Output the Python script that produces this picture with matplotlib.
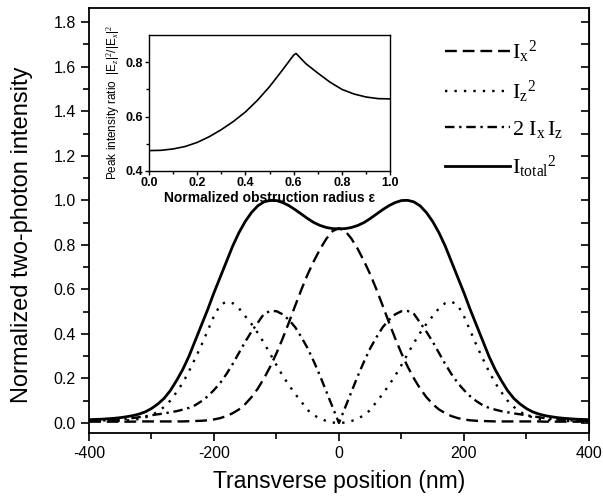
import numpy as np
import matplotlib
matplotlib.use('Agg')
import matplotlib.pyplot as plt

plt.rcParams['font.family'] = ['Liberation Sans', 'DejaVu Sans']
plt.rcParams['mathtext.fontset'] = 'custom'
plt.rcParams['mathtext.rm'] = 'Liberation Serif'
plt.rcParams['mathtext.it'] = 'Liberation Serif:italic'
plt.rcParams['axes.unicode_minus'] = False

# half profiles, x >= 0 (curves are symmetric about 0)
pos_half = [0, 10, 20, 30, 40, 50, 60, 70, 80, 90, 100, 110, 120, 130, 140, 150, 160, 170, 180, 190,
            200, 210, 220, 230, 240, 250, 260, 270, 280, 290, 300, 310, 320, 330, 340, 350, 360, 370, 380, 390, 400]
ix2_half = [0.875, 0.862, 0.828, 0.782, 0.728, 0.668, 0.600, 0.527, 0.452, 0.380, 0.313, 0.253, 0.200, 0.154,
            0.116, 0.085, 0.061, 0.044, 0.031, 0.022, 0.016, 0.012, 0.010, 0.009, 0.008, 0.007, 0.007, 0.007,
            0.007, 0.007, 0.007, 0.007, 0.007, 0.006, 0.006, 0.006, 0.006, 0.006, 0.006, 0.006, 0.006]
iz2_half = [0.0, 0.002, 0.009, 0.019, 0.035, 0.058, 0.095, 0.130, 0.170, 0.212, 0.260, 0.310, 0.360, 0.405,
            0.445, 0.480, 0.515, 0.538, 0.545, 0.530, 0.480, 0.415, 0.350, 0.290, 0.232, 0.180, 0.138, 0.100,
            0.072, 0.050, 0.035, 0.025, 0.018, 0.014, 0.012, 0.010, 0.009, 0.009, 0.008, 0.008, 0.008]
ixz_half = [0.0, 0.070, 0.140, 0.210, 0.275, 0.335, 0.385, 0.430, 0.463, 0.488, 0.502, 0.503, 0.490, 0.450,
            0.410, 0.365, 0.315, 0.265, 0.220, 0.180, 0.148, 0.120, 0.098, 0.080, 0.068, 0.060, 0.053, 0.048,
            0.043, 0.039, 0.035, 0.030, 0.026, 0.022, 0.019, 0.016, 0.014, 0.012, 0.011, 0.010, 0.010]
tot_half = [0.872, 0.873, 0.878, 0.887, 0.900, 0.918, 0.938, 0.958, 0.976, 0.990, 0.999, 1.000, 0.993, 0.975,
            0.945, 0.905, 0.855, 0.795, 0.725, 0.655, 0.585, 0.510, 0.440, 0.370, 0.300, 0.240, 0.190, 0.145,
            0.110, 0.085, 0.065, 0.050, 0.040, 0.033, 0.028, 0.024, 0.021, 0.019, 0.017, 0.016, 0.015]

# inset: peak intensity ratio vs obstruction radius
eps = [0.0, 0.05, 0.1, 0.15, 0.2, 0.25, 0.3, 0.35, 0.4, 0.45, 0.5, 0.55, 0.6, 0.61, 0.65, 0.7, 0.75, 0.8,
       0.85, 0.9, 0.95, 1.0]
ratio = [0.475, 0.476, 0.481, 0.490, 0.505, 0.526, 0.552, 0.582, 0.617, 0.660, 0.710, 0.767, 0.826, 0.832,
         0.795, 0.760, 0.727, 0.700, 0.683, 0.672, 0.666, 0.665]

def mirror(h, neg=False):
    h = np.array(h, dtype=float)
    left = -h[::-1] if neg else h[::-1]
    return np.concatenate([left, h[1:]])

x = mirror(pos_half, neg=True)
ix2 = mirror(ix2_half)
iz2 = mirror(iz2_half)
ixz = mirror(ixz_half)
tot = mirror(tot_half)

fig = plt.figure(figsize=(6.03, 5.01), dpi=100)
ax = fig.add_axes([0.1476, 0.1357, 0.829, 0.848])

ax.plot(x, ix2, color='black', lw=1.7, ls=(0, (5, 2.5)), label=r'${\mathrm{I_x}}^{\mathrm{2}}$')
ax.plot(x, iz2, color='black', lw=1.7, ls=(0, (1, 3)), label=r'${\mathrm{I_z}}^{\mathrm{2}}$')
ax.plot(x, ixz, color='black', lw=1.7, ls=(0, (4, 2, 1, 2)), label=r'$\mathrm{2\ I_x\,I_z}$')
ax.plot(x, tot, color='black', lw=2.0, ls='-', label=r'${\mathrm{I_{total}}}^{\mathrm{2}}$')

ax.set_xlim(-400, 400)
ax.set_ylim(-0.045, 1.863)
ax.set_xticks([-400, -200, 0, 200, 400])
ax.set_xticks([-300, -100, 100, 300], minor=True)
yt = np.arange(0, 1.81, 0.2)
ytm = np.arange(0.1, 1.81, 0.2)
ax.set_yticks(yt)
ax.set_yticks(ytm, minor=True)
ax.yaxis.set_major_formatter(matplotlib.ticker.FormatStrFormatter('%.1f'))
ax.tick_params(which='both', direction='out', labelsize=11.5, width=1.2)
ax.tick_params(which='major', length=6)
ax.tick_params(which='minor', length=4)
for s in ax.spines.values():
    s.set_linewidth(1.3)
ax.set_xlabel('Transverse position (nm)', fontsize=16.5, labelpad=6)
ax.set_ylabel('Normalized two-photon intensity', fontsize=17)
ax.yaxis.set_label_coords(-0.112, 0.466)

# inward ticks on the right spine
sec = ax.secondary_yaxis('right')
sec.set_yticks(yt)
sec.set_yticks(ytm, minor=True)
sec.tick_params(which='both', direction='in', labelright=False, width=1.2, length=6)

leg = ax.legend(loc='upper left', bbox_to_anchor=(0.712, 0.927), frameon=False, fontsize=16,
                handlelength=2.95, handletextpad=0.05, labelspacing=0.62, borderaxespad=0, borderpad=0)

# inset
ins = fig.add_axes([0.247, 0.6587, 0.400, 0.2715])
ins.plot(eps, ratio, color='black', lw=1.2)
ins.set_xlim(0, 1.0)
ins.set_ylim(0.4, 0.9)
ins.set_xticks([0.0, 0.2, 0.4, 0.6, 0.8, 1.0])
ins.set_xticks([0.1, 0.3, 0.5, 0.7, 0.9], minor=True)
ins.set_yticks([0.4, 0.6, 0.8])
ins.set_yticks([0.5, 0.7], minor=True)
ins.xaxis.set_major_formatter(matplotlib.ticker.FormatStrFormatter('%.1f'))
ins.yaxis.set_major_formatter(matplotlib.ticker.FormatStrFormatter('%.1f'))
ins.tick_params(which='both', direction='out', labelsize=9, width=1.0, pad=1.5)
ins.tick_params(which='major', length=3)
ins.tick_params(which='minor', length=2)
for lab in ins.get_xticklabels() + ins.get_yticklabels():
    lab.set_fontweight('bold')
for s in ins.spines.values():
    s.set_linewidth(1.0)
ins.set_xlabel('Normalized obstruction radius ε', fontsize=10, fontweight='bold', labelpad=1)
ins.set_ylabel(r'Peak intensity ratio  |E$_z$|$^2$/|E$_x$|$^2$', fontsize=8.5, labelpad=2)

fig.savefig('out.png', dpi=100)
